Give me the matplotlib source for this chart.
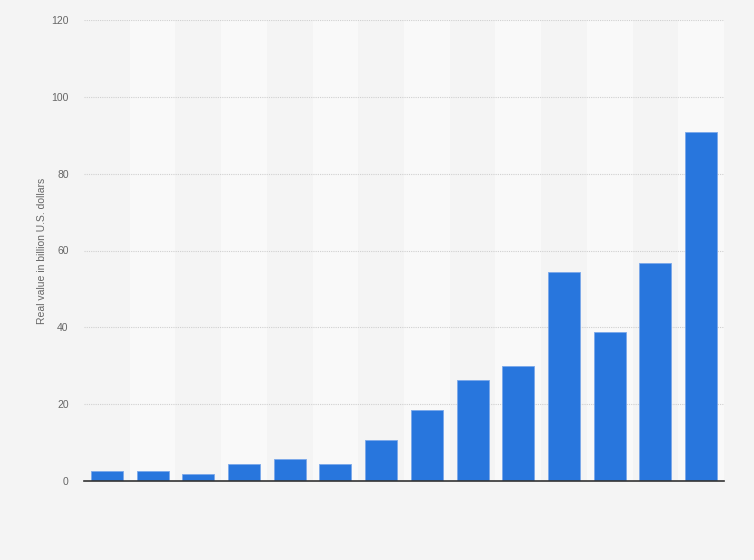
import matplotlib
matplotlib.use("Agg")
import matplotlib.pyplot as plt

categories = [str(i) for i in range(1, 15)]
values = [2.6, 2.6, 1.9, 4.3, 5.6, 4.3, 10.8, 18.4, 26.2, 30.0, 54.5, 38.9, 56.8, 90.8]
yticks = [0, 20, 40, 60, 80, 100, 120]

plt.rcParams['font.family'] = ['Liberation Sans', 'DejaVu Sans']

fig = plt.figure(figsize=(7.54, 5.6), dpi=100)
fig.patch.set_facecolor('#f4f4f4')
ax = fig.add_axes([84/754, 1 - 481/560, 640/754, 461/560])
ax.set_facecolor('#f4f4f4')

x = list(range(len(categories)))
for i in x:
    if i % 2 == 1:
        ax.axvspan(i - 0.5, i + 0.5, color='#f9f9f9', zorder=0, lw=0)

ax.bar(x, values, width=0.7, color='#2876dd', edgecolor='#7aa8ea', linewidth=0.6, zorder=3)

ax.set_xlim(-0.5, len(categories) - 0.5)
ax.set_ylim(0, 120)
ax.set_yticks(yticks)
ax.set_yticklabels([str(t) for t in yticks], fontsize=7.5, color='#666666')
ax.set_xticks(x)
ax.set_xticklabels([''] * len(categories))
ax.tick_params(axis='both', length=0)
ax.tick_params(axis='y', pad=11)

for t in yticks[1:]:
    ax.axhline(t, color='#d0d0d0', linestyle=(0, (1, 1)), linewidth=0.8, zorder=1)

for s in ['top', 'right', 'left']:
    ax.spines[s].set_visible(False)
ax.spines['bottom'].set_color('#333333')
ax.spines['bottom'].set_linewidth(1.2)
ax.spines['bottom'].set_zorder(5)

ax.set_ylabel('Real value in billion U.S. dollars', fontsize=7.5, color='#666666', labelpad=3)

fig.savefig('out.png', dpi=100, facecolor=fig.get_facecolor())
